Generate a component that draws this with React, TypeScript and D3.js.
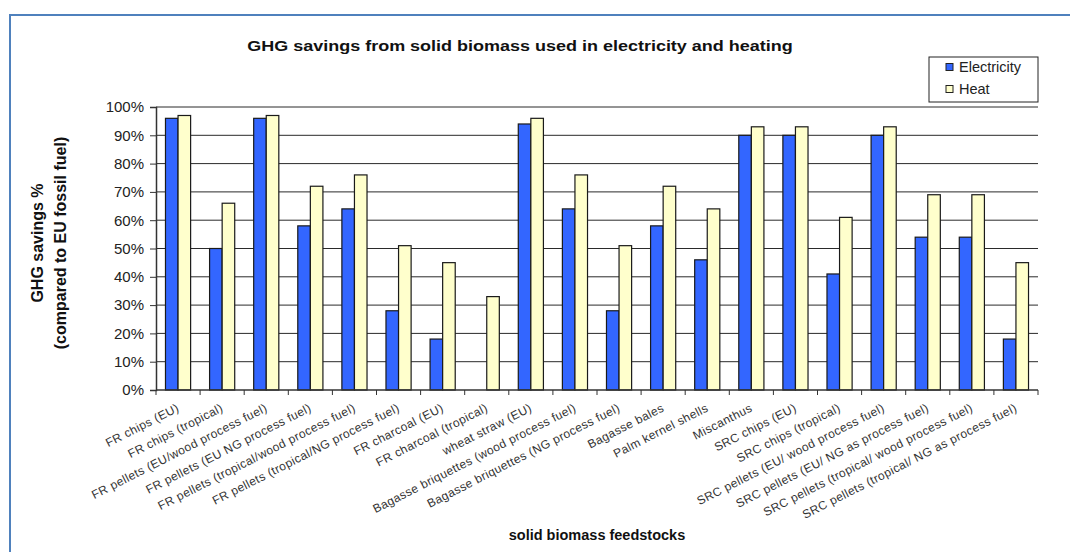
import React, { useEffect, useRef } from "react";
import * as d3 from "d3";

const feedstocks = [
  "FR chips (EU)",
  "FR chips (tropical)",
  "FR pellets (EU/wood process fuel)",
  "FR pellets (EU NG process fuel)",
  "FR pellets (tropical/wood process fuel)",
  "FR pellets (tropical/NG process fuel)",
  "FR charcoal (EU)",
  "FR charcoal (tropical)",
  "wheat straw (EU)",
  "Bagasse briquettes (wood process fuel)",
  "Bagasse briquettes (NG process fuel)",
  "Bagasse bales",
  "Palm kernel shells",
  "Miscanthus",
  "SRC chips (EU)",
  "SRC chips (tropical)",
  "SRC pellets (EU/ wood process fuel)",
  "SRC pellets (EU/ NG as process fuel)",
  "SRC pellets (tropical/ wood process fuel)",
  "SRC pellets (tropical/ NG as process fuel)",
];

const electricity = [96, 50, 96, 58, 64, 28, 18, 0, 94, 64, 28, 58, 46, 90, 90, 41, 90, 54, 54, 18];
const heat = [97, 66, 97, 72, 76, 51, 45, 33, 96, 76, 51, 72, 64, 93, 93, 61, 93, 69, 69, 45];

const seriesNames = ["Electricity", "Heat"];
const seriesColors = ["#3366ff", "#ffffcc"];
const yTicks = [0, 10, 20, 30, 40, 50, 60, 70, 80, 90, 100];

const font = "'Liberation Sans', Arial, sans-serif";

const App = () => {
  const ref = useRef<SVGSVGElement | null>(null);

  useEffect(() => {
    if (ref.current) drawChart(ref.current);
  }, []);

  return (
    <div style={{ position: "absolute", left: 0, top: 0 }}>
      <svg ref={ref} width={1070} height={552} style={{ display: "block", background: "#fff" }} />
    </div>
  );
};

function drawChart(el: SVGSVGElement) {
  const svg = d3.select(el);
  svg.selectAll("*").remove();

  // outer frame (runs off the right and bottom edges)
  svg
    .append("rect")
    .attr("x", 10)
    .attr("y", 15)
    .attr("width", 1100)
    .attr("height", 580)
    .attr("fill", "#fff")
    .attr("stroke", "#4f81bd")
    .attr("stroke-width", 2);

  const left = 156;
  const right = 1038;
  const top = 107;
  const bottom = 390;

  const x = d3
    .scaleBand()
    .domain(feedstocks)
    .range([left, right])
    .paddingInner(0.43)
    .paddingOuter(0.215);

  const x1 = d3.scaleBand().domain(seriesNames).range([0, x.bandwidth()]);

  const y = d3.scaleLinear().domain([0, 100]).range([bottom, top]);

  // gridlines
  svg
    .append("g")
    .selectAll("line")
    .data(yTicks.filter((d) => d > 0))
    .enter()
    .append("line")
    .attr("x1", left)
    .attr("x2", right)
    .attr("y1", (d) => y(d))
    .attr("y2", (d) => y(d))
    .attr("stroke", "#2a2a2a")
    .attr("stroke-width", 1);

  // bars
  const rows = feedstocks.map((name, i) => ({
    name,
    values: [electricity[i], heat[i]],
  }));

  const groups = svg
    .append("g")
    .selectAll("g")
    .data(rows)
    .enter()
    .append("g")
    .attr("transform", (d) => `translate(${x(d.name)},0)`);

  groups
    .selectAll("rect")
    .data((d) => d.values.map((v, j) => ({ key: seriesNames[j], value: v, j })).filter((b) => b.value > 0))
    .enter()
    .append("rect")
    .attr("x", (d) => x1(d.key) as number)
    .attr("width", x1.bandwidth())
    .attr("y", (d) => y(d.value))
    .attr("height", (d) => bottom - y(d.value))
    .attr("fill", (d) => seriesColors[d.j])
    .attr("stroke", "#1a1a1a")
    .attr("stroke-width", 1.2);

  // y axis
  const yAxis = svg
    .append("g")
    .attr("transform", `translate(${left},0)`)
    .call(
      d3
        .axisLeft(y)
        .tickValues(yTicks)
        .tickSize(6)
        .tickPadding(6)
        .tickFormat((d) => `${d}%`)
    );
  yAxis.select(".domain").attr("stroke", "#333").attr("stroke-width", 1.5);
  yAxis.selectAll(".tick line").attr("stroke", "#333");
  yAxis
    .selectAll(".tick text")
    .attr("fill", "#222")
    .style("font-family", font)
    .style("font-size", "15px");

  // x axis line + ticks at band boundaries
  const step = x.step();
  const xAxis = svg.append("g");
  xAxis
    .append("line")
    .attr("x1", left)
    .attr("x2", right)
    .attr("y1", bottom)
    .attr("y2", bottom)
    .attr("stroke", "#333")
    .attr("stroke-width", 1.5);
  xAxis
    .selectAll(".xt")
    .data(d3.range(feedstocks.length + 1))
    .enter()
    .append("line")
    .attr("x1", (i) => left + i * step)
    .attr("x2", (i) => left + i * step)
    .attr("y1", bottom)
    .attr("y2", bottom + 5)
    .attr("stroke", "#333");

  // rotated category labels
  xAxis
    .selectAll(".xl")
    .data(feedstocks)
    .enter()
    .append("text")
    .attr(
      "transform",
      (d) => `translate(${(x(d) as number) + x.bandwidth() / 2 - 2},${bottom + 13}) rotate(-27)`
    )
    .attr("text-anchor", "end")
    .attr("dy", "0.71em")
    .attr("fill", "#333")
    .style("font-family", font)
    .style("font-size", "12px")
    .style("letter-spacing", "0.4px")
    .text((d) => d);

  // title (slightly wide lettering, as in the source image)
  svg
    .append("text")
    .attr("transform", "translate(520,51) scale(1.2,1)")
    .attr("text-anchor", "middle")
    .attr("fill", "#111")
    .style("font-family", font)
    .style("font-size", "15px")
    .style("font-weight", "bold")
    .text("GHG savings from solid biomass used in electricity and heating");

  // y axis title
  const yTitle = svg
    .append("text")
    .attr("transform", "translate(43,243) rotate(-90)")
    .attr("text-anchor", "middle")
    .attr("fill", "#111")
    .style("font-family", font)
    .style("font-size", "16px")
    .style("font-weight", "bold");
  yTitle.append("tspan").attr("x", 0).attr("y", 0).text("GHG savings %");
  yTitle.append("tspan").attr("x", 0).attr("y", 23).text("(compared to EU fossil fuel)");

  // x axis title
  svg
    .append("text")
    .attr("x", 597)
    .attr("y", 540)
    .attr("text-anchor", "middle")
    .attr("fill", "#111")
    .style("font-family", font)
    .style("font-size", "14.5px")
    .style("font-weight", "bold")
    .text("solid biomass feedstocks");

  // legend
  const legend = svg.append("g");
  legend
    .append("rect")
    .attr("x", 929)
    .attr("y", 57)
    .attr("width", 109)
    .attr("height", 45)
    .attr("fill", "#fff")
    .attr("stroke", "#222")
    .attr("stroke-width", 1);
  seriesNames.forEach((name, i) => {
    legend
      .append("rect")
      .attr("x", 946)
      .attr("y", 63.5 + i * 22)
      .attr("width", 7)
      .attr("height", 7)
      .attr("fill", seriesColors[i])
      .attr("stroke", "#222")
      .attr("stroke-width", 1);
    legend
      .append("text")
      .attr("x", 959)
      .attr("y", 72 + i * 22)
      .attr("fill", "#222")
      .style("font-family", font)
      .style("font-size", "14.5px")
      .text(name);
  });
}

export default App;
